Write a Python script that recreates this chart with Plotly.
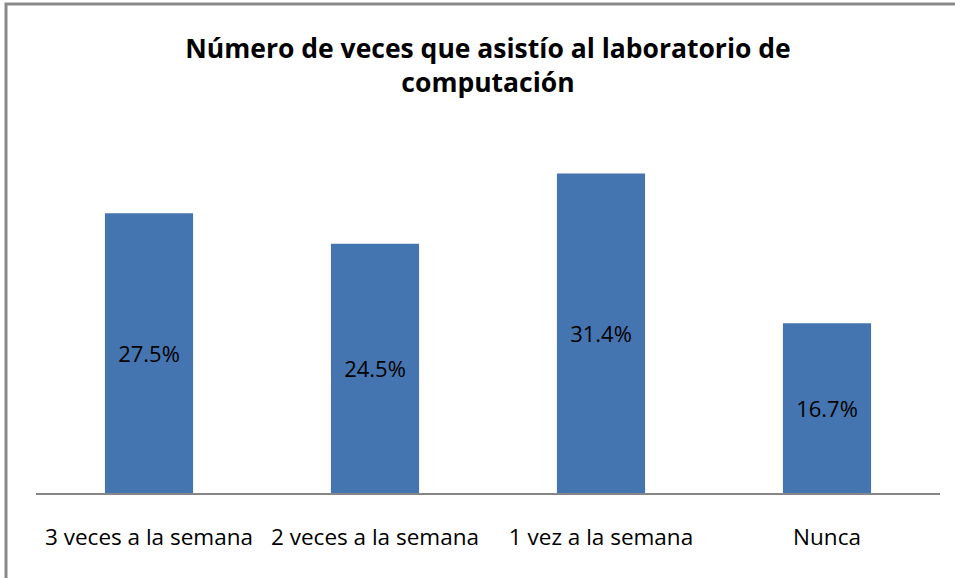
import plotly.graph_objects as go

categories = ["3 veces a la semana", "2 veces a la semana", "1 vez a la semana", "Nunca"]
values = [27.5, 24.5, 31.4, 16.7]
labels = ["27.5%", "24.5%", "31.4%", "16.7%"]

FONT = "Open Sans, Noto Sans, Arial"

fig = go.Figure(go.Bar(
    x=categories, y=values, text=labels, textposition="inside",
    insidetextanchor="middle", textangle=0,
    marker=dict(color="#4575B0", line=dict(width=0)),
    textfont=dict(family=FONT, size=22, color="black"),
    width=0.39,
))

fig.update_layout(
    width=955, height=578,
    margin=dict(l=36, r=15, t=137, b=85),
    paper_bgcolor="white", plot_bgcolor="white",
    showlegend=False,
    title=dict(
        text="<b>Número de veces que asistío al laboratorio de<br>computación</b>",
        x=0.5, xref="paper", xanchor="center", y=1 - 58 / 578, yanchor="middle",
        font=dict(family=FONT, size=26.5, color="black"),
    ),
    xaxis=dict(
        showline=True, linecolor="#868686", linewidth=2,
        ticks="", ticklabelstandoff=23,
        tickfont=dict(family=FONT, size=22.5, color="black"),
        showgrid=False,
    ),
    yaxis=dict(range=[0, 35], visible=False, showgrid=False),
    shapes=[dict(type="rect", xref="paper", yref="paper",
                 x0=-30/904, x1=1.03, y0=-0.3, y1=1 + 133/356,
                 line=dict(color="#8A8A8A", width=3))],
)

fig.write_html("out.html", config={"displayModeBar": False},
               post_script="document.body.style.margin='0';")
